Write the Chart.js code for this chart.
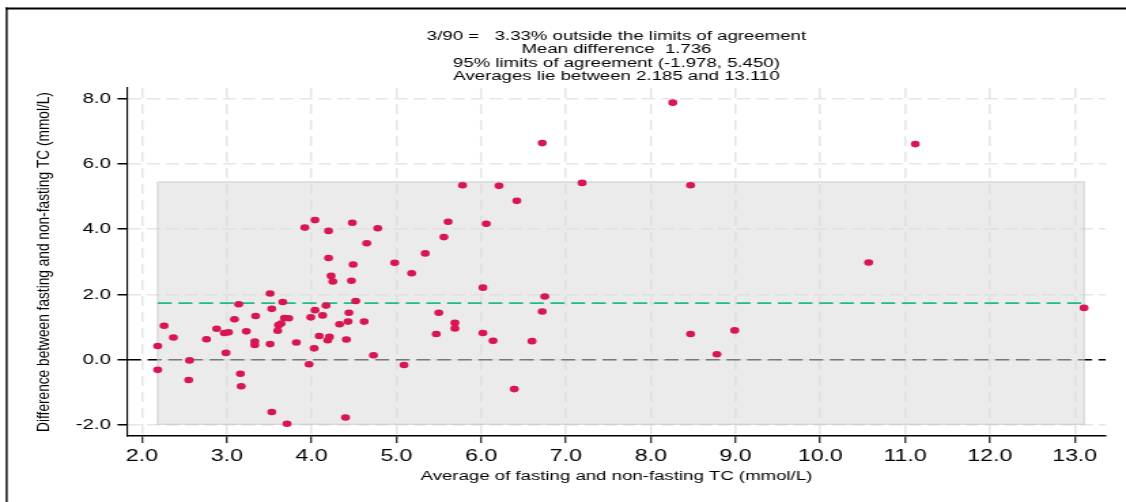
<!DOCTYPE html>
<html>
<head>
<meta charset="utf-8">
<script src="https://cdn.jsdelivr.net/npm/chart.js@4.4.1/dist/chart.umd.min.js"></script>
<style>
  html, body { margin: 0; padding: 0; background: #fff; }
  canvas { display: block; }
</style>
</head>
<body>
<!-- the original figure is stretched horizontally, so the canvas is drawn narrower and widened by CSS -->
<canvas id="blandAltman" width="828" height="502" style="width:1126px;height:502px"></canvas>
<script>
// Bland-Altman : TC à jeun / non à jeun
const avgTC = [
  2.185, 2.26, 2.37, 2.185, 2.56, 2.55, 2.76, 2.88, 2.97, 3.02,
  2.99, 3.09, 3.14, 3.16, 3.17, 3.23, 3.34, 3.33, 3.33, 3.51,
  3.53, 3.51, 3.53, 3.66, 3.68, 3.73, 3.61, 3.64, 3.60, 3.71,
  3.82, 3.92, 4.04, 4.20, 4.48, 4.78, 4.65, 4.20, 4.49, 4.23,
  4.25, 4.47, 4.17, 4.04, 3.99, 4.13, 4.52, 4.44, 4.43, 4.33,
  4.62, 4.09, 4.21, 4.19, 4.41, 4.03, 3.97, 4.73, 4.40, 4.98,
  5.18, 5.34, 5.09, 5.78, 6.21, 6.42, 7.19, 8.47, 5.61, 6.06,
  5.56, 6.02, 6.75, 6.72, 5.50, 5.69, 5.69, 5.47, 6.02, 6.14,
  6.60, 8.47, 8.99, 8.78, 6.39, 8.26, 6.72, 11.12, 10.57, 13.11
];
const diffTC = [
  0.42, 1.04, 0.68, -0.31, -0.02, -0.62, 0.63, 0.95, 0.82, 0.84,
  0.21, 1.24, 1.70, -0.43, -0.81, 0.87, 1.34, 0.56, 0.45, 2.03,
  1.56, 0.48, -1.60, 1.77, 1.28, 1.27, 1.06, 1.11, 0.89, -1.96,
  0.53, 4.05, 4.28, 3.95, 4.20, 4.03, 3.57, 3.12, 2.92, 2.57,
  2.40, 2.42, 1.66, 1.52, 1.30, 1.36, 1.80, 1.44, 1.17, 1.09,
  1.17, 0.73, 0.70, 0.60, 0.62, 0.35, -0.14, 0.14, -1.77, 2.97,
  2.65, 3.26, -0.16, 5.35, 5.33, 4.87, 5.42, 5.35, 4.23, 4.17,
  3.76, 2.21, 1.94, 1.48, 1.44, 1.13, 0.96, 0.79, 0.82, 0.58,
  0.57, 0.79, 0.90, 0.17, -0.90, 7.88, 6.64, 6.61, 2.98, 1.59
];

const meanDiff = 1.736;
const loaLow = -1.978;
const loaHigh = 5.450;
const avgMin = 2.185;
const avgMax = 13.110;

const xTicks = [2, 3, 4, 5, 6, 7, 8, 9, 10, 11, 12, 13];
const yTicks = [-2, 0, 2, 4, 6, 8];

const titleLines = [
  "3/90 =   3.33% outside the limits of agreement",
  "Mean difference  1.736",
  "95% limits of agreement (-1.978, 5.450)",
  "Averages lie between 2.185 and 13.110"
];
const xTitle = "Average of fasting and non-fasting TC (mmol/L)";
const yTitle = "Difference between fasting and non-fasting TC (mmol/L)";

// bornes des axes
const xMin = 1.823, xMax = 13.368;
const yMin = -2.337, yMax = 8.33;

Chart.defaults.font.family = "'Liberation Sans', Arial, Helvetica, sans-serif";
Chart.defaults.color = "#000";

const points = avgTC.map((x, i) => ({ x: x, y: diffTC[i] }));

// Cadre noir autour de la figure
const frame = {
  id: "frame",
  beforeDraw(chart) {
    const ctx = chart.ctx;
    ctx.save();
    ctx.fillStyle = "#fff";
    ctx.fillRect(0, 0, chart.width, chart.height);
    ctx.strokeStyle = "#000";
    ctx.lineWidth = 1.8;
    ctx.beginPath();
    ctx.moveTo(4, 8.5);
    ctx.lineTo(chart.width, 8.5);
    ctx.stroke();
    ctx.lineWidth = 1.4;
    ctx.beginPath();
    ctx.moveTo(4.9, 7.6);
    ctx.lineTo(4.9, chart.height);
    ctx.stroke();
    ctx.restore();
  }
};

new Chart(document.getElementById("blandAltman"), {
  type: "scatter",
  data: {
    datasets: [
      {
        label: "Mesures",
        data: points,
        pointRadius: 3.3,
        pointHoverRadius: 3.3,
        pointBackgroundColor: "rgb(215, 22, 82)",
        pointBorderWidth: 0,
        order: 0
      },
      {
        type: "line",
        label: "Moyenne",
        data: [{ x: avgMin, y: meanDiff }, { x: avgMax, y: meanDiff }],
        borderColor: "rgb(32, 188, 128)",
        borderWidth: 1.6,
        borderDash: [10.3, 4.9],
        pointRadius: 0,
        fill: false,
        order: 1
      },
      {
        type: "line",
        label: "Limites",
        data: [{ x: avgMin, y: loaHigh }, { x: avgMax, y: loaHigh }],
        borderColor: "rgba(0,0,0,0)",
        backgroundColor: "rgba(218, 218, 218, 0.55)",
        fill: { value: loaLow },
        pointRadius: 0,
        order: 2
      },
      {
        type: "line",
        label: "Cadre limites",
        data: [
          { x: avgMin, y: loaHigh }, { x: avgMax, y: loaHigh },
          { x: avgMax, y: loaLow }, { x: avgMin, y: loaLow },
          { x: avgMin, y: loaHigh }
        ],
        borderColor: "rgba(190, 190, 190, 0.6)",
        borderWidth: 1.4,
        pointRadius: 0,
        fill: false,
        order: 2
      },
      {
        type: "line",
        label: "Zéro",
        data: [{ x: xMin, y: 0 }, { x: xMax, y: 0 }],
        borderColor: "#000",
        borderWidth: 1.5,
        borderDash: [10.3, 4.9],
        pointRadius: 0,
        fill: false,
        order: 3
      }
    ]
  },
  options: {
    responsive: false,
    animation: false,
    events: [],
    layout: { padding: { top: 29.25, right: 14.8, bottom: 0, left: 0 } },
    plugins: {
      legend: { display: false },
      tooltip: { enabled: false },
      title: {
        display: true,
        fullSize: false,
        text: titleLines,
        color: "#000",
        font: { size: 13.7, weight: "normal", lineHeight: 0.985 },
        padding: { top: 0, bottom: 4.75 }
      }
    },
    scales: {
      x: {
        type: "linear",
        min: xMin,
        max: xMax,
        afterBuildTicks: s => { s.ticks = xTicks.map(v => ({ value: v })); },
        afterFit: s => { s.height = 66; },
        ticks: {
          callback: v => v.toFixed(1),
          font: { size: 17 },
          color: "#000",
          padding: 3,
          maxRotation: 0,
          autoSkip: false
        },
        grid: { color: "#e6e6e6", lineWidth: 1.5, tickLength: 7, tickColor: "#000", tickWidth: 1.1 },
        border: { color: "#000", width: 1.5, dash: [10, 6] },
        title: {
          display: true,
          text: xTitle,
          color: "#000",
          font: { size: 13.7 },
          padding: { top: 0, bottom: 17.3 }
        }
      },
      y: {
        type: "linear",
        min: yMin,
        max: yMax,
        afterBuildTicks: s => { s.ticks = yTicks.map(v => ({ value: v })); },
        afterFit: s => { s.width = 93.4; },
        ticks: {
          callback: v => v.toFixed(1),
          font: { size: 15 },
          color: "#000",
          padding: 4.8
        },
        grid: { color: "#e6e6e6", lineWidth: 1.5, tickLength: 7, tickColor: "#000", tickWidth: 1.5 },
        border: { color: "#000", width: 1.1, dash: [9.5, 4.5] },
        title: {
          display: true,
          text: yTitle,
          color: "#000",
          font: { size: 13.7 },
          padding: { top: 24.5, bottom: 0 }
        }
      }
    }
  },
  plugins: [frame]
});
</script>
</body>
</html>
